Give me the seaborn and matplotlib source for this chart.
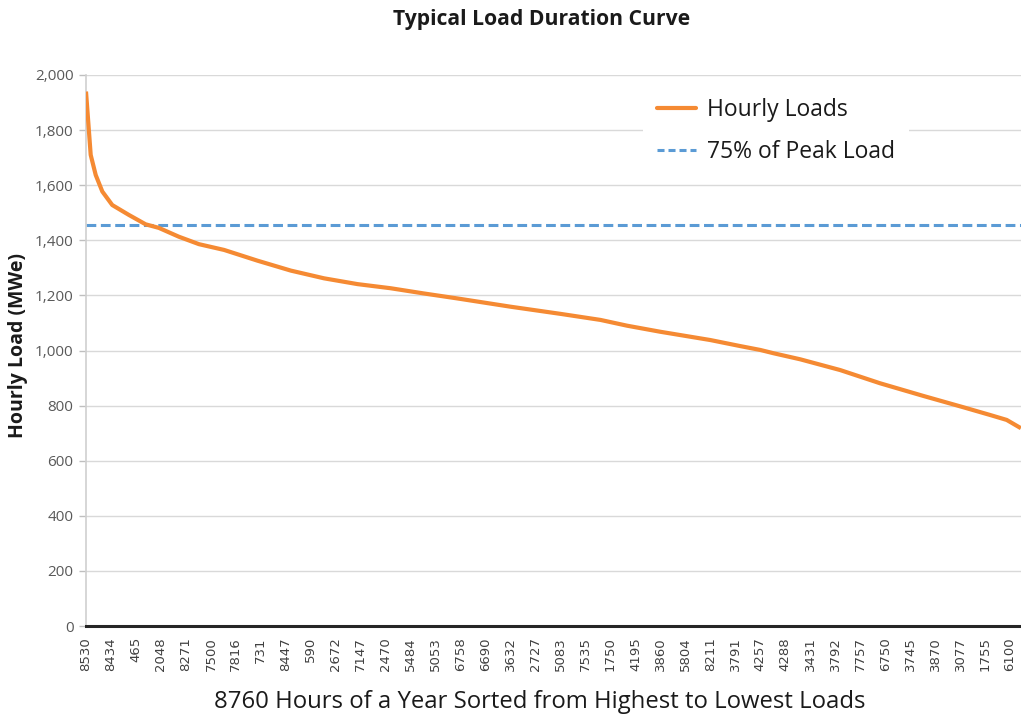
import numpy as np
import pandas as pd
import matplotlib
matplotlib.use("Agg")
import matplotlib.pyplot as plt
from matplotlib.lines import Line2D
import seaborn as sns

# Load duration curve: rank of each hour (sorted high to low) and its load in MWe
hour_rank = [0, 44, 91, 153, 246, 402, 559, 683, 870, 1058, 1294, 1607, 1919,
             2230, 2543, 2854, 3166, 3479, 3977, 4445, 4820, 5070, 5381, 5849,
             6130, 6317, 6442, 6692, 7066, 7440, 7846, 8220, 8470, 8626, 8759]
load_mwe = [1940, 1710, 1637, 1577, 1528, 1492, 1458, 1445, 1413, 1386, 1365,
            1326, 1290, 1262, 1241, 1226, 1207, 1189, 1159, 1133, 1111, 1090,
            1068, 1038, 1016, 1002, 990, 968, 929, 881, 835, 794, 766, 748, 718]

# Hour-of-year identifiers shown along the x axis
hour_labels = ["8530", "8434", "465", "2048", "8271", "7500", "7816", "731",
               "8447", "590", "2672", "7147", "2470", "5484", "5053", "6758",
               "6690", "3632", "2727", "5083", "7535", "1750", "4195", "3860",
               "5804", "8211", "3791", "4257", "4288", "3431", "3792", "7757",
               "6750", "3745", "3870", "3077", "1755", "6100"]
label_step = 234
hours_in_year = 8760

y_ticks = [0, 200, 400, 600, 800, 1000, 1200, 1400, 1600, 1800, 2000]

peak_fraction = 0.75
threshold = peak_fraction * max(load_mwe)

df = pd.DataFrame({"rank": hour_rank, "load": load_mwe})

sns.set_theme(style="white")
plt.rcParams["font.family"] = ["Open Sans", "DejaVu Sans"]

fig = plt.figure(figsize=(10.21, 7.15), dpi=100)
ax = fig.add_axes([86 / 1021, 89 / 715, (1021 - 86) / 1021, 551 / 715])

orange = "#F58A33"
blue = "#5B9BD5"

ax.axhline(threshold, color=blue, lw=2.2, dashes=(3.2, 1.5),
           dash_capstyle="butt", zorder=2)
sns.lineplot(data=df, x="rank", y="load", ax=ax, color=orange, lw=3.0,
             zorder=3, solid_capstyle="butt")

ax.set_xlim(0, hours_in_year)
ax.set_ylim(0, 2000)

ax.set_yticks(y_ticks)
ax.set_yticklabels([f"{v:,}" for v in y_ticks], color="#595959", fontsize=11)
ax.set_xticks(np.arange(len(hour_labels)) * label_step)
ax.set_xticklabels(hour_labels, rotation=90, fontsize=9.5, color="#404040",
                   family=["DejaVu Sans"])

ax.tick_params(axis="x", length=0, pad=8)
ax.tick_params(axis="y", length=5, width=1, color="#BFBFBF", pad=4, left=True)

ax.yaxis.grid(True, color="#D9D9D9", lw=1)
ax.xaxis.grid(False)
for s in ["top", "right"]:
    ax.spines[s].set_visible(False)
ax.spines["left"].set_color("#D0D0D0")
ax.spines["left"].set_linewidth(1.2)
ax.spines["bottom"].set_color("#262626")
ax.spines["bottom"].set_linewidth(2.2)
ax.spines["bottom"].set_zorder(4)

ax.set_xlabel("")
ax.set_ylabel("")
fig.text(18 / 1021, 1 - 346 / 715, "Hourly Load (MWe)", rotation=90,
         ha="center", va="center", fontsize=14, fontweight="bold",
         color="#1a1a1a")
fig.text(540 / 1021, 1 - 702 / 715,
         "8760 Hours of a Year Sorted from Highest to Lowest Loads",
         ha="center", va="center", fontsize=17.2, color="#1a1a1a")
fig.text(542 / 1021, 1 - 20 / 715, "Typical Load Duration Curve",
         ha="center", va="center", fontsize=15.2, fontweight="bold",
         color="#1a1a1a")

handles = [
    Line2D([], [], color=orange, lw=3.0),
    Line2D([], [], color=blue, lw=2.2, dashes=(2.3, 1.3), dash_capstyle="butt"),
]
leg = ax.legend(handles, ["Hourly Loads", f"{int(peak_fraction * 100)}% of Peak Load"],
                loc="upper left", bbox_to_anchor=((643 - 86) / 935, 1 - (84 - 75) / 551),
                frameon=True, facecolor="white", edgecolor="none", framealpha=1,
                fontsize=16.5, handlelength=1.7, handletextpad=0.5,
                labelspacing=0.78, borderpad=0.6, borderaxespad=0)
for t in leg.get_texts():
    t.set_color("#1a1a1a")
    t.set_fontweight("medium")

fig.savefig("out.png", dpi=100, facecolor="white")
